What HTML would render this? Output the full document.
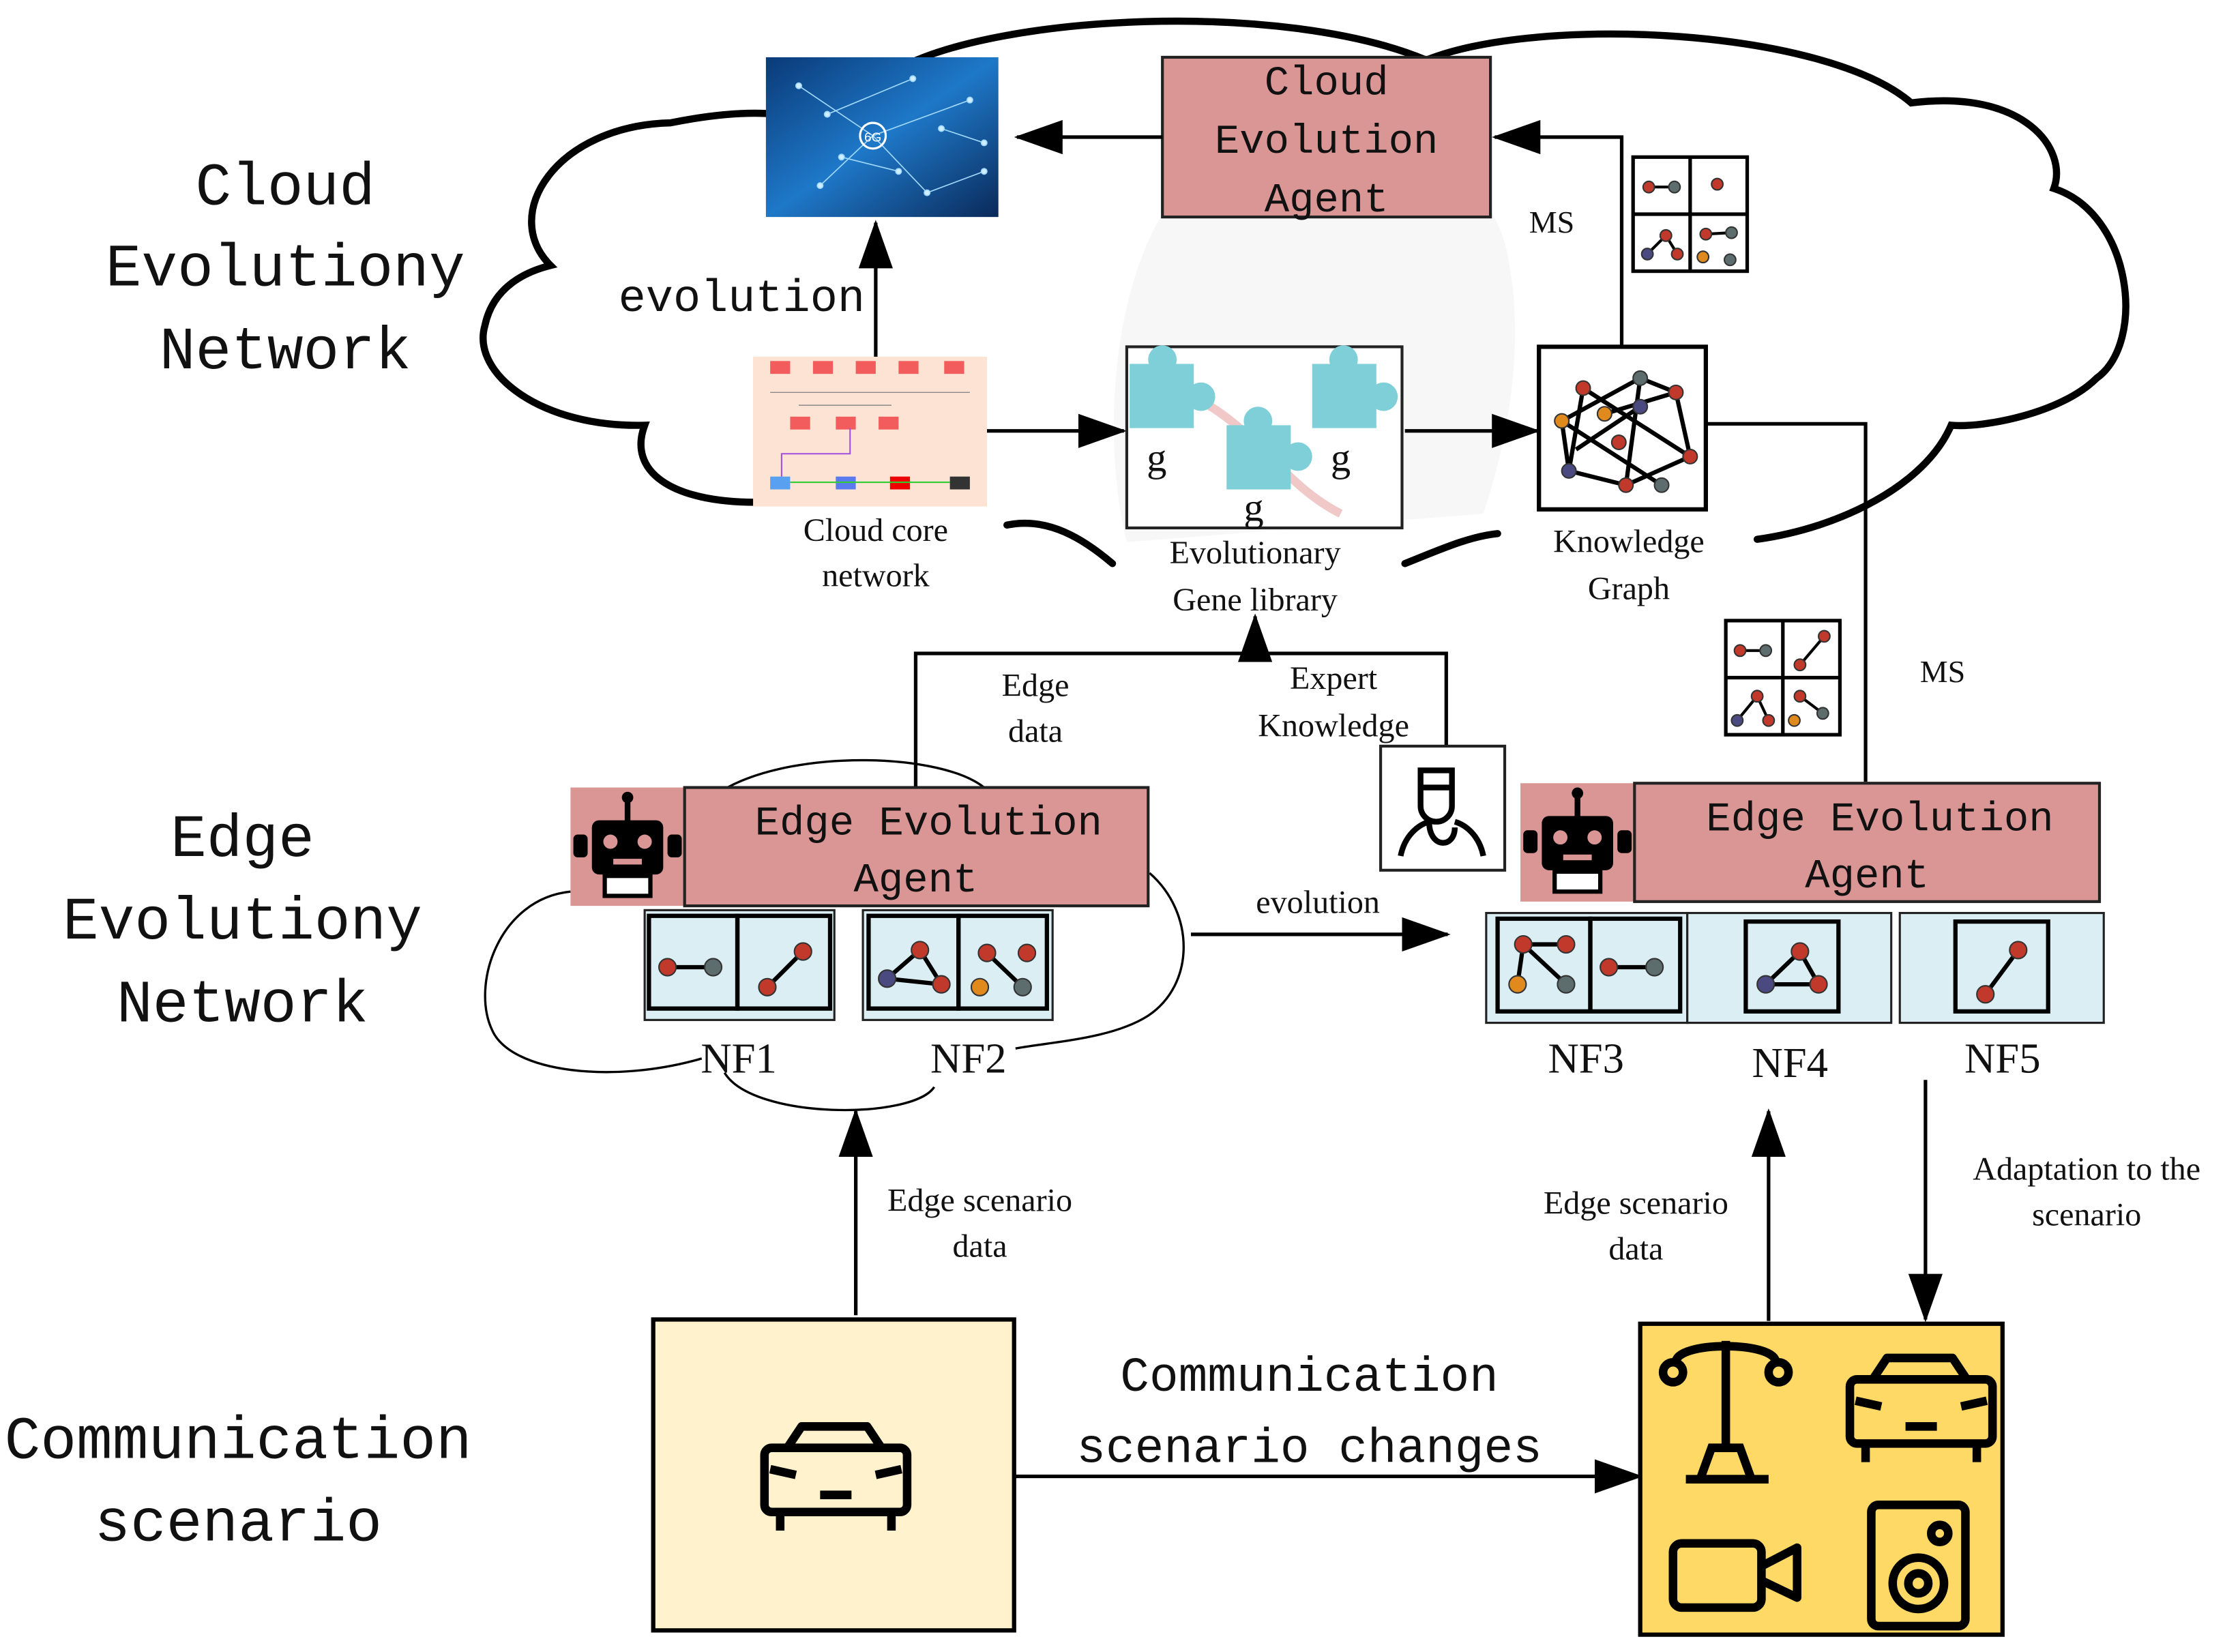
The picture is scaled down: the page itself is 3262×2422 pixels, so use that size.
<!DOCTYPE html>
<html><head><meta charset="utf-8"><style>
html,body{margin:0;padding:0;background:#fff;}
svg{display:block;}
.m{font-family:"Liberation Mono",monospace;fill:#111;}
.s{font-family:"Liberation Serif",serif;fill:#111;}
</style></head><body>
<svg width="3262" height="2422" viewBox="0 0 1560 1158" xmlns="http://www.w3.org/2000/svg">
<defs>
<marker id="ahb" markerWidth="34" markerHeight="24" refX="32" refY="12" orient="auto" markerUnits="userSpaceOnUse">
<path d="M0,0 L34,12 L0,24 z" fill="#000"/></marker>
<linearGradient id="g6" x1="0" y1="0" x2="1" y2="1"><stop offset="0" stop-color="#0a3a78"/><stop offset="0.5" stop-color="#1e78c8"/><stop offset="1" stop-color="#0a2a5a"/></linearGradient>
</defs>
<rect width="1560" height="1158" fill="#fff"/>
<path d="M790,380 C770,300 780,160 850,110 C930,60 1030,90 1055,170 C1070,230 1060,300 1040,360 Z" fill="#f7f7f7"/>
<g fill="none" stroke="#000" stroke-width="5" stroke-linecap="round">
<path d="M530,352 C470,352 440,330 452,298 C380,300 330,262 340,228 C346,200 370,190 386,186 C350,150 390,88 470,86 C500,80 525,78 545,80 M630,48 C700,10 900,0 1000,42 C1080,10 1280,20 1340,72 C1420,62 1450,105 1440,132 C1495,150 1505,240 1470,265 C1445,290 1390,300 1368,298 C1350,340 1290,370 1232,378"/>
<path d="M706,368 C735,362 760,378 780,395 M985,395 C1010,385 1030,376 1050,374"/>
</g>
<g fill="none" stroke="#000" stroke-width="1.6">
<path d="M510,552 C560,525 660,528 690,552"/>
<path d="M400,625 C350,630 330,690 345,722 C358,752 430,760 492,742"/>
<path d="M508,752 C528,785 640,785 655,762"/>
<path d="M806,612 C838,640 838,690 805,712 C780,728 740,730 712,735"/>
</g>
<g class="m" font-size="42" text-anchor="middle">
<text x="200" y="143">Cloud</text><text x="200" y="200">Evolutiony</text><text x="200" y="258">Network</text>
<text x="170" y="600">Edge</text><text x="170" y="658">Evolutiony</text><text x="170" y="716">Network</text>
<text x="167" y="1022">Communication</text><text x="167" y="1080">scenario</text>
</g>
<rect x="537" y="40" width="163" height="112" fill="url(#g6)"/>
<g stroke="#9fd8ff" stroke-width="0.8" fill="#cfeeff">
<line x1="560" y1="60" x2="612" y2="95"/><line x1="612" y1="95" x2="680" y2="70"/><line x1="612" y1="95" x2="650" y2="135"/><line x1="612" y1="95" x2="575" y2="130"/><line x1="650" y1="135" x2="690" y2="120"/><line x1="580" y1="80" x2="640" y2="55"/><line x1="590" y1="110" x2="630" y2="120"/><line x1="660" y1="90" x2="690" y2="100"/>
<circle cx="612" cy="95" r="9" fill="none" stroke="#fff" stroke-width="1.5"/>
<circle cx="560" cy="60" r="2"/><circle cx="680" cy="70" r="2"/><circle cx="650" cy="135" r="2"/><circle cx="575" cy="130" r="2"/><circle cx="690" cy="120" r="2"/><circle cx="640" cy="55" r="2"/><circle cx="580" cy="80" r="2"/><circle cx="590" cy="110" r="2"/><circle cx="630" cy="120" r="2"/><circle cx="660" cy="90" r="2"/><circle cx="690" cy="100" r="2"/>
</g>
<text x="612" y="99" font-size="9" fill="#fff" text-anchor="middle" font-family="Liberation Sans">6G</text>
<rect x="815" y="40" width="230" height="112" fill="#d99694" stroke="#222" stroke-width="2"/>
<g class="m" font-size="29" text-anchor="middle"><text x="930" y="66">Cloud</text><text x="930" y="107">Evolution</text><text x="930" y="148">Agent</text></g>
<g stroke="#000" stroke-width="2.5" fill="none">
<line x1="815" y1="96" x2="713" y2="96" marker-end="url(#ahb)"/>
<polyline points="1137,242 1137,96 1048,96" marker-end="url(#ahb)"/>
<line x1="614" y1="250" x2="614" y2="156" marker-end="url(#ahb)"/>
<line x1="692" y1="302" x2="788" y2="302" marker-end="url(#ahb)"/>
<line x1="985" y1="302" x2="1078" y2="302" marker-end="url(#ahb)"/>
<polyline points="1196,297 1308,297 1308,548"/>
<polyline points="642,552 642,458 1014,458 1014,523"/>
<line x1="880" y1="458" x2="880" y2="432" marker-end="url(#ahb)"/>
<line x1="835" y1="655" x2="1015" y2="655" marker-end="url(#ahb)"/>
<line x1="600" y1="922" x2="600" y2="779" marker-end="url(#ahb)"/>
<line x1="1240" y1="926" x2="1240" y2="779" marker-end="url(#ahb)"/>
<line x1="1350" y1="757" x2="1350" y2="925" marker-end="url(#ahb)"/>
<line x1="711" y1="1035" x2="1150" y2="1035" marker-end="url(#ahb)"/>
</g>
<text x="1088" y="163" class="s" font-size="22" text-anchor="middle">MS</text>
<text x="1362" y="478" class="s" font-size="22" text-anchor="middle">MS</text>
<text x="520" y="218" class="m" font-size="32" text-anchor="middle">evolution</text>
<g stroke="#000" stroke-width="2.5" fill="#fff">
<rect x="1145" y="110" width="80" height="80"/><line x1="1185" y1="110" x2="1185" y2="190"/><line x1="1145" y1="150" x2="1225" y2="150"/>
<rect x="1210" y="435" width="80" height="80"/><line x1="1250" y1="435" x2="1250" y2="515"/><line x1="1210" y1="475" x2="1290" y2="475"/>
</g>
<g stroke="#000" stroke-width="2"><line x1="1156" y1="131" x2="1174" y2="131"/><line x1="1155" y1="178" x2="1168" y2="165"/><line x1="1168" y1="165" x2="1176" y2="178"/><line x1="1196" y1="164" x2="1214" y2="163"/><line x1="1220" y1="456" x2="1238" y2="456"/><line x1="1279" y1="446" x2="1262" y2="466"/><line x1="1218" y1="505" x2="1232" y2="488"/><line x1="1232" y1="488" x2="1240" y2="505"/><line x1="1262" y1="488" x2="1278" y2="500"/></g>
<g fill="#c0392b" stroke="#333" stroke-width="1"><circle cx="1156" cy="131" r="4"/><circle cx="1174" cy="131" r="4" fill="#5d6d6d"/><circle cx="1204" cy="129" r="4"/><circle cx="1155" cy="178" r="4" fill="#4a4a80"/><circle cx="1168" cy="165" r="4"/><circle cx="1176" cy="178" r="4"/><circle cx="1196" cy="164" r="4"/><circle cx="1214" cy="163" r="4" fill="#5d6d6d"/><circle cx="1194" cy="180" r="4" fill="#e08a1e"/><circle cx="1213" cy="182" r="4" fill="#5d6d6d"/>
<circle cx="1220" cy="456" r="4"/><circle cx="1238" cy="456" r="4" fill="#5d6d6d"/><circle cx="1279" cy="446" r="4"/><circle cx="1262" cy="466" r="4"/><circle cx="1218" cy="505" r="4" fill="#4a4a80"/><circle cx="1232" cy="488" r="4"/><circle cx="1240" cy="505" r="4"/><circle cx="1262" cy="488" r="4"/><circle cx="1258" cy="505" r="4" fill="#e08a1e"/><circle cx="1278" cy="500" r="4" fill="#5d6d6d"/></g>
<rect x="528" y="250" width="164" height="105" fill="#fde3d3"/>
<g fill="#f25c5c"><rect x="540" y="253" width="14" height="9"/><rect x="570" y="253" width="14" height="9"/><rect x="600" y="253" width="14" height="9"/><rect x="630" y="253" width="14" height="9"/><rect x="662" y="253" width="14" height="9"/><rect x="554" y="292" width="14" height="9"/><rect x="586" y="292" width="14" height="9"/><rect x="616" y="292" width="14" height="9"/></g>
<g stroke="#888" stroke-width="0.7" fill="none"><line x1="540" y1="275" x2="680" y2="275"/><line x1="560" y1="284" x2="625" y2="284"/></g>
<rect x="540" y="334" width="14" height="9" fill="#5aa0f0"/><rect x="586" y="334" width="14" height="9" fill="#5a7af0"/><rect x="624" y="334" width="14" height="9" fill="#e00"/><rect x="666" y="334" width="14" height="9" fill="#333"/>
<line x1="554" y1="338" x2="666" y2="338" stroke="#3c3" stroke-width="1"/>
<polyline points="548,334 548,318 596,318 596,300" fill="none" stroke="#a050e0" stroke-width="1"/>
<g class="s" font-size="23" text-anchor="middle"><text x="614" y="379">Cloud core</text><text x="614" y="411">network</text>
<text x="880" y="395">Evolutionary</text><text x="880" y="428">Gene library</text>
<text x="1142" y="387">Knowledge</text><text x="1142" y="420">Graph</text>
<text x="726" y="488">Edge</text><text x="726" y="520">data</text>
<text x="935" y="483">Expert</text><text x="935" y="516">Knowledge</text>
<text x="924" y="640">evolution</text>
<text x="687" y="849">Edge scenario</text><text x="687" y="881">data</text>
<text x="1147" y="851">Edge scenario</text><text x="1147" y="883">data</text>
<text x="1463" y="827">Adaptation to the</text><text x="1463" y="859">scenario</text></g>
<rect x="790" y="243" width="193" height="127" fill="#fff" stroke="#222" stroke-width="2"/>
<path d="M840,280 C880,300 900,340 940,360" stroke="#f0c8c8" stroke-width="6" fill="none"/>
<g fill="#7ecfd8"><rect x="792" y="255" width="45" height="45"/><circle cx="815" cy="252" r="10"/><circle cx="842" cy="278" r="10"/><rect x="860" y="298" width="45" height="45"/><circle cx="882" cy="295" r="10"/><circle cx="910" cy="320" r="10"/><rect x="920" y="255" width="45" height="45"/><circle cx="942" cy="252" r="10"/><circle cx="970" cy="278" r="10"/></g>
<g class="s" font-size="28"><text x="804" y="330">g</text><text x="933" y="330">g</text><text x="872" y="365">g</text></g>
<rect x="1079" y="243" width="117" height="114" fill="#fff" stroke="#000" stroke-width="3"/>
<g stroke="#000" stroke-width="3"><line x1="1095" y1="295" x2="1150" y2="265"/><line x1="1150" y1="265" x2="1175" y2="275"/><line x1="1175" y1="275" x2="1185" y2="320"/><line x1="1185" y1="320" x2="1140" y2="340"/><line x1="1140" y1="340" x2="1100" y2="330"/><line x1="1100" y1="330" x2="1095" y2="295"/><line x1="1110" y1="272" x2="1185" y2="320"/><line x1="1125" y1="290" x2="1175" y2="275"/><line x1="1095" y1="295" x2="1165" y2="340"/><line x1="1150" y1="265" x2="1140" y2="340"/><line x1="1110" y1="272" x2="1100" y2="330"/><line x1="1150" y1="285" x2="1105" y2="315"/></g>
<g stroke="#333" stroke-width="1"><circle cx="1095" cy="295" r="5" fill="#e08a1e"/><circle cx="1150" cy="265" r="5" fill="#5d6d6d"/><circle cx="1175" cy="275" r="5" fill="#c0392b"/><circle cx="1185" cy="320" r="5" fill="#c0392b"/><circle cx="1140" cy="340" r="5" fill="#c0392b"/><circle cx="1100" cy="330" r="5" fill="#4a4a80"/><circle cx="1110" cy="272" r="5" fill="#c0392b"/><circle cx="1125" cy="290" r="5" fill="#e08a1e"/><circle cx="1150" cy="285" r="5" fill="#4a4a80"/><circle cx="1165" cy="340" r="5" fill="#5d6d6d"/><circle cx="1135" cy="310" r="5" fill="#c0392b"/></g>
<rect x="968" y="523" width="87" height="87" fill="#fff" stroke="#222" stroke-width="2"/>
<g fill="none" stroke="#000" stroke-width="4"><path d="M996,540 h22 v25 a11,11 0 0 1 -22,0 z"/><line x1="996" y1="552" x2="1018" y2="552"/><path d="M982,600 C985,585 995,578 1002,576 M1040,600 C1037,585 1027,578 1020,576"/><path d="M1002,576 C1002,595 1020,595 1020,580"/></g>
<g id="robot">
<rect x="400" y="552" width="80" height="83" fill="#d99694"/>
<rect x="415" y="575" width="50" height="38" rx="5" fill="#000"/><rect x="402" y="585" width="10" height="16" rx="3" fill="#000"/><rect x="468" y="585" width="10" height="16" rx="3" fill="#000"/>
<circle cx="440" cy="559" r="4" fill="#000"/><rect x="438" y="560" width="4" height="16" fill="#000"/>
<circle cx="428" cy="590" r="5" fill="#d99694"/><circle cx="452" cy="590" r="5" fill="#d99694"/><rect x="430" y="602" width="20" height="4" fill="#d99694"/>
<rect x="424" y="614" width="32" height="14" fill="#fff" stroke="#000" stroke-width="3"/>
</g>
<use href="#robot" x="666" y="-3"/>
<rect x="480" y="552" width="325" height="83" fill="#d99694" stroke="#222" stroke-width="2"/>
<rect x="1146" y="549" width="326" height="83" fill="#d99694" stroke="#222" stroke-width="2"/>
<g class="m" font-size="29" text-anchor="middle"><text x="651" y="585">Edge Evolution</text><text x="642" y="625">Agent</text><text x="1318" y="582">Edge Evolution</text><text x="1309" y="622">Agent</text></g>
<g stroke="#222" stroke-width="1.5" fill="#dbeef3"><rect x="452" y="638" width="133" height="77"/><rect x="605" y="638" width="133" height="77"/><rect x="1042" y="640" width="141" height="77"/><rect x="1183" y="640" width="143" height="77"/><rect x="1332" y="640" width="143" height="77"/></g>
<g stroke="#000" stroke-width="3" fill="none"><rect x="455" y="642" width="62" height="65"/><rect x="517" y="642" width="65" height="65"/><rect x="609" y="642" width="63" height="65"/><rect x="672" y="642" width="62" height="65"/><rect x="1050" y="644" width="65" height="65"/><rect x="1115" y="644" width="63" height="65"/><rect x="1224" y="646" width="65" height="63"/><rect x="1371" y="646" width="65" height="63"/></g>
<g stroke="#000" stroke-width="3"><line x1="468" y1="678" x2="500" y2="678"/><line x1="538" y1="692" x2="563" y2="667"/><line x1="622" y1="686" x2="645" y2="666"/><line x1="645" y1="666" x2="660" y2="690"/><line x1="622" y1="686" x2="660" y2="690"/><line x1="692" y1="668" x2="717" y2="692"/><line x1="1068" y1="662" x2="1098" y2="690"/><line x1="1068" y1="662" x2="1064" y2="690"/><line x1="1068" y1="662" x2="1098" y2="662"/><line x1="1128" y1="678" x2="1160" y2="678"/><line x1="1238" y1="690" x2="1262" y2="667"/><line x1="1262" y1="667" x2="1275" y2="690"/><line x1="1238" y1="690" x2="1275" y2="690"/><line x1="1392" y1="697" x2="1415" y2="666"/></g>
<g stroke="#333" stroke-width="1"><circle cx="468" cy="678" r="6" fill="#c0392b"/><circle cx="500" cy="678" r="6" fill="#5d6d6d"/><circle cx="538" cy="692" r="6" fill="#c0392b"/><circle cx="563" cy="667" r="6" fill="#c0392b"/><circle cx="622" cy="686" r="6" fill="#4a4a80"/><circle cx="645" cy="666" r="6" fill="#c0392b"/><circle cx="660" cy="690" r="6" fill="#c0392b"/><circle cx="692" cy="668" r="6" fill="#c0392b"/><circle cx="720" cy="668" r="6" fill="#c0392b"/><circle cx="687" cy="692" r="6" fill="#e08a1e"/><circle cx="717" cy="692" r="6" fill="#5d6d6d"/><circle cx="1068" cy="662" r="6" fill="#c0392b"/><circle cx="1098" cy="662" r="6" fill="#c0392b"/><circle cx="1064" cy="690" r="6" fill="#e08a1e"/><circle cx="1098" cy="690" r="6" fill="#5d6d6d"/><circle cx="1128" cy="678" r="6" fill="#c0392b"/><circle cx="1160" cy="678" r="6" fill="#5d6d6d"/><circle cx="1238" cy="690" r="6" fill="#4a4a80"/><circle cx="1262" cy="667" r="6" fill="#c0392b"/><circle cx="1275" cy="690" r="6" fill="#c0392b"/><circle cx="1392" cy="697" r="6" fill="#c0392b"/><circle cx="1415" cy="666" r="6" fill="#c0392b"/></g>
<g class="s" font-size="30" text-anchor="middle"><text x="518" y="752">NF1</text><text x="679" y="752">NF2</text><text x="1112" y="752">NF3</text><text x="1255" y="755">NF4</text><text x="1404" y="752">NF5</text></g>
<rect x="458" y="925" width="253" height="218" fill="#fff2cc" stroke="#000" stroke-width="3"/>
<rect x="1150" y="928" width="254" height="218" fill="#ffd966" stroke="#000" stroke-width="3"/>
<g class="m" font-size="34" text-anchor="middle"><text x="918" y="975">Communication</text><text x="918" y="1025">scenario changes</text></g>
<g id="car" fill="none" stroke="#000" stroke-width="6" stroke-linejoin="round">
<path d="M552,1015 L562,1000 H608 L618,1015"/><rect x="536" y="1015" width="100" height="45" rx="5"/><line x1="547" y1="1060" x2="547" y2="1073"/><line x1="625" y1="1060" x2="625" y2="1073"/><line x1="575" y1="1048" x2="597" y2="1048"/><line x1="540" y1="1030" x2="558" y2="1034"/><line x1="632" y1="1030" x2="614" y2="1034"/>
</g>
<use href="#car" x="761" y="-48" />
<g fill="none" stroke="#000" stroke-width="6"><line x1="1210" y1="940" x2="1210" y2="1015"/><path d="M1175,955 C1175,940 1245,940 1245,955"/><circle cx="1173" cy="962" r="7"/><circle cx="1247" cy="962" r="7"/><path d="M1200,1015 h20 l8,22 h-36 z"/><line x1="1182" y1="1037" x2="1240" y2="1037"/></g>
<g fill="none" stroke="#000" stroke-width="6" stroke-linejoin="round"><rect x="1173" y="1082" width="62" height="45" rx="6"/><path d="M1235,1098 L1260,1085 V1120 L1235,1108"/></g>
<g fill="none" stroke="#000" stroke-width="6"><rect x="1312" y="1055" width="66" height="85" rx="5"/><circle cx="1345" cy="1110" r="18"/><circle cx="1345" cy="1110" r="7"/><circle cx="1360" cy="1075" r="6"/></g>
</svg>
</body></html>
